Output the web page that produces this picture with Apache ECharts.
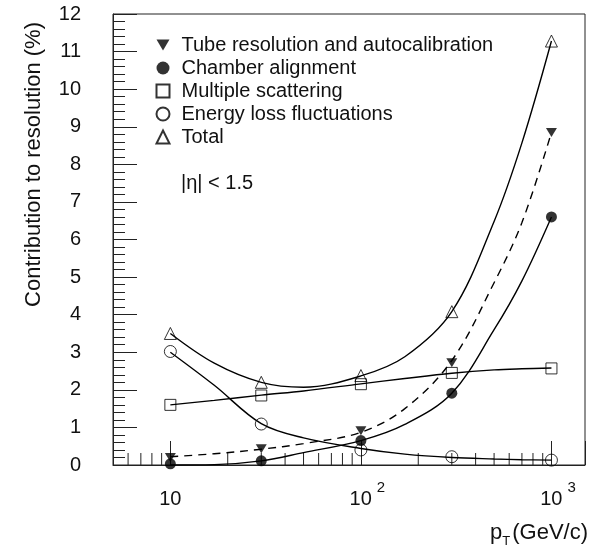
<!DOCTYPE html>
<html>
<head>
<meta charset="utf-8">
<script src="https://cdn.jsdelivr.net/npm/echarts@6/dist/echarts.min.js"></script>
<style>
  html, body { margin: 0; padding: 0; background: #fff; }
  #chart { width: 605px; height: 546px; }
</style>
</head>
<body>
<div id="chart"></div>
<script>
// Measured contributions (%) at each transverse momentum (GeV/c)
const ptValues      = [10, 30, 100, 300, 1000];
const tubeRes       = [0.2, 0.43, 0.91, 2.72, 8.85];
const chamberAlign  = [0.03, 0.11, 0.65, 1.91, 6.6];
const multiScatter  = [1.6, 1.85, 2.15, 2.45, 2.57];
const energyLoss    = [3.02, 1.09, 0.4, 0.22, 0.13];
const totalRes      = [3.5, 2.2, 2.38, 4.08, 11.28];

// Fitted curves, sampled along pT
const curvePt        = [10, 17, 30, 50, 100, 170, 300, 500, 700, 1000];
const tubeCurve      = [0.22, 0.3, 0.42, 0.57, 0.87, 1.5, 2.78, 4.85, 6.45, 8.85];
const chamberCurve   = [0.0, 0.01, 0.11, 0.33, 0.65, 1.08, 1.91, 3.6, 4.9, 6.6];
const scatterCurve   = [1.6, 1.72, 1.86, 1.97, 2.16, 2.3, 2.44, 2.53, 2.56, 2.58];
const energyCurve    = [3.0, 2.12, 1.1, 0.72, 0.44, 0.29, 0.2, 0.16, 0.14, 0.13];
const totalCurve     = [3.5, 2.71, 2.2, 2.07, 2.37, 2.88, 4.08, 6.48, 8.57, 11.28];

// Axis ticks
const xMajorTicks = [10, 100, 1000];
const xMajorExponents = [1, 2, 3];
const xMinorTicks = [6, 7, 8, 9, 20, 30, 40, 50, 60, 70, 80, 90,
                     200, 300, 400, 500, 600, 700, 800, 900];

const seriesNames = [
  'Tube resolution and autocalibration',
  'Chamber alignment',
  'Multiple scattering',
  'Energy loss fluctuations',
  'Total'
];

const FONT = 'Liberation Sans, Arial, sans-serif';
const INK = '#111';
const DOWN_TRI = 'path://M0,0L2,0L1,1.7Z';

function pairs(xs, ys) { return xs.map((x, i) => [x, ys[i]]); }

function curve(values, dashed) {
  return {
    type: 'line',
    data: pairs(curvePt, values),
    smooth: 0.35,
    showSymbol: false,
    symbol: 'none',
    silent: true,
    z: 2,
    lineStyle: { color: '#000', width: 1.4, type: dashed ? [8, 6] : 'solid' }
  };
}

function points(name, values, symbol, size, filled) {
  return {
    type: 'scatter',
    name: name,
    data: pairs(ptValues, values),
    symbol: symbol,
    symbolSize: size,
    z: 3,
    itemStyle: filled
      ? { color: '#000', borderColor: '#000', borderWidth: 0 }
      : { color: 'rgba(0,0,0,0)', borderColor: '#000', borderWidth: 1 }
  };
}

const chart = echarts.init(document.getElementById('chart'), null, { renderer: 'canvas' });

chart.setOption({
  backgroundColor: '#fff',
  animation: false,
  textStyle: { fontFamily: FONT },
  grid: {
    left: 113, right: 20, top: 14, bottom: 81,
    show: true, borderColor: '#222', borderWidth: 1, backgroundColor: 'transparent'
  },
  legend: {
    data: seriesNames,
    orient: 'vertical',
    left: 155.5,
    top: 35,
    padding: 0,
    itemWidth: 13,
    itemHeight: 13,
    itemGap: 3,
    textStyle: { fontFamily: FONT, fontSize: 20, color: INK, padding: [0, 0, 0, 7] }
  },
  xAxis: {
    type: 'log',
    logBase: 10,
    min: 5,
    max: 1500,
    axisLine: { show: true, lineStyle: { color: '#222', width: 1 } },
    axisTick: { show: true, inside: true, length: 24, lineStyle: { color: '#222', width: 1 } },
    minorTick: { show: false },
    splitLine: { show: false },
    axisLabel: {
      margin: 15,
      fontFamily: FONT,
      color: INK,
      formatter: function (v) {
        const i = xMajorTicks.findIndex(t => Math.abs(t - v) / t < 1e-6);
        if (i < 0) return '';
        const e = xMajorExponents[i];
        if (e === 1) return '{pad0|}{b|10}';
        return '{pad|}{b|10}{s|' + e + '}';
      },
      rich: {
        pad0: { width: 0, lineHeight: 29 },
        pad:  { width: 13, lineHeight: 29 },
        b: { fontSize: 20, lineHeight: 20, verticalAlign: 'bottom', color: INK, fontFamily: FONT },
        s: { fontSize: 15, lineHeight: 15, verticalAlign: 'top', color: INK, fontFamily: FONT, padding: [0, 0, 0, 5] }
      }
    }
  },
  yAxis: {
    type: 'value',
    min: 0,
    max: 12,
    interval: 1,
    axisLine: { show: true, lineStyle: { color: '#222', width: 1 } },
    axisTick: { show: true, inside: true, length: 24, lineStyle: { color: '#222', width: 1 } },
    minorTick: { show: true, splitNumber: 5, length: 12, lineStyle: { color: '#222', width: 1 } },
    splitLine: { show: false },
    minorSplitLine: { show: false },
    axisLabel: { margin: 32, fontSize: 20, color: INK, fontFamily: FONT }
  },
  graphic: [
    {
      type: 'text',
      x: 34, y: 164.5,
      rotation: Math.PI / 2,
      style: {
        text: 'Contribution to resolution (%)',
        fontSize: 22, fontFamily: FONT, fill: INK,
        align: 'center', verticalAlign: 'middle'
      }
    },
    {
      type: 'text',
      x: 588, y: 535,
      style: {
        text: '{sp|}{p|p}{t|T}{g|(GeV/c)}',
        align: 'right', verticalAlign: 'middle',
        rich: {
          sp: { width: 0, lineHeight: 26 },
          p: { fontSize: 22, lineHeight: 22, verticalAlign: 'top', fill: INK, fontFamily: FONT },
          t: { fontSize: 13, lineHeight: 13, verticalAlign: 'bottom', fill: INK, fontFamily: FONT, padding: [0, 2, 0, 0] },
          g: { fontSize: 22, lineHeight: 22, verticalAlign: 'top', fill: INK, fontFamily: FONT }
        }
      }
    },
    {
      type: 'text',
      x: 181, y: 183,
      style: {
        text: '|η| < 1.5',
        fontSize: 20, fontFamily: FONT, fill: INK,
        align: 'left', verticalAlign: 'middle'
      }
    }
  ],
  series: [
    // log-axis minor ticks along the bottom edge
    {
      type: 'custom',
      silent: true,
      z: 1,
      data: xMinorTicks.map(v => [v, 0]),
      renderItem: function (params, api) {
        const p = api.coord([api.value(0), 0]);
        return {
          type: 'line',
          shape: { x1: p[0], y1: p[1], x2: p[0], y2: p[1] - 12 },
          style: { stroke: '#222', lineWidth: 1 }
        };
      }
    },
    curve(tubeCurve, true),
    curve(chamberCurve, false),
    curve(scatterCurve, false),
    curve(energyCurve, false),
    curve(totalCurve, false),
    points(seriesNames[0], tubeRes, DOWN_TRI, [11, 9], true),
    points(seriesNames[1], chamberAlign, 'circle', 11, true),
    points(seriesNames[2], multiScatter, 'rect', 11, false),
    points(seriesNames[3], energyLoss, 'circle', 12, false),
    points(seriesNames[4], totalRes, 'triangle', 12, false)
  ]
});
</script>
</body>
</html>
